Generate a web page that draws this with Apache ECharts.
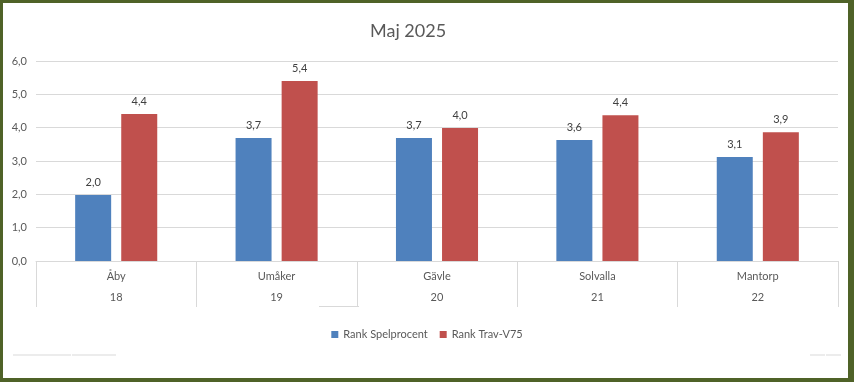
<!DOCTYPE html>
<html><head><meta charset="utf-8">
<script src="https://cdn.jsdelivr.net/npm/echarts@6/dist/echarts.min.js"></script>
<style>
html,body{margin:0;padding:0;background:#fff;}
#wrap{position:absolute;left:0;top:0;width:854px;height:382px;box-sizing:border-box;border-style:solid;border-color:#4F6228;border-width:3px 6px 4px 3px;}
#c{position:absolute;left:0;top:0;width:854px;height:382px;}
</style></head>
<body>
<div id="c"></div>
<div id="wrap"></div>
<script>
const tracks = ['Åby','Umåker','Gävle','Solvalla','Mantorp'];
const weeks = ['18','19','20','21','22'];
const yTicks = ['0,0','1,0','2,0','3,0','4,0','5,0','6,0'];
const rankSpelprocent = [1.98, 3.69, 3.69, 3.63, 3.12];
const rankTravV75 = [4.41, 5.40, 3.99, 4.37, 3.86];
const seriesNames = ['Rank Spelprocent','Rank Trav-V75'];

const font = 'Lato, "Noto Sans", sans-serif';
const chart = echarts.init(document.getElementById('c'), null, {renderer:'canvas'});
const lbl = {show:true, position:'top', distance:7, color:'#404040', fontSize:11, fontFamily:font,
  formatter: p => p.value.toFixed(1).replace('.', ',')};
chart.setOption({
  animation:false,
  backgroundColor:'#fff',
  title:{text:'Maj 2025', left:370, top:22, padding:0, textStyle:{fontFamily:font, fontSize:18, fontWeight:'normal', color:'#595959'}},
  legend:{data:seriesNames, left:'center', top:324, itemWidth:7, itemHeight:7, itemGap:12, icon:'rect',
    textStyle:{fontFamily:font, fontSize:11, color:'#595959'}},
  grid:{left:36, right:16, top:61, bottom:121, containLabel:false},
  xAxis:[
    {type:'category', data:tracks, position:'bottom',
     axisLine:{lineStyle:{color:'#d9d9d9'}},
     axisTick:{show:true, length:46, lineStyle:{color:'#d9d9d9'}},
     axisLabel:{margin:10, color:'#595959', fontSize:11, fontFamily:font}},
    {type:'category', data:weeks, position:'bottom', gridIndex:0,
     axisLine:{show:false}, axisTick:{show:false},
     axisLabel:{margin:31, color:'#595959', fontSize:11, fontFamily:font}}
  ],
  yAxis:{type:'value', min:0, max:6, interval:1,
    axisLine:{show:false}, axisTick:{show:false},
    splitLine:{lineStyle:{color:'#d9d9d9'}},
    axisLabel:{margin:9, color:'#595959', fontSize:11, fontFamily:font,
      formatter: v => yTicks[Math.round(v)]}},
  series:[
    {name:seriesNames[0], type:'bar', data:rankSpelprocent, barWidth:36, barGap:'28%', itemStyle:{color:'#4F81BD'}, label:lbl},
    {name:seriesNames[1], type:'bar', data:rankTravV75, barWidth:36, barGap:'28%', itemStyle:{color:'#C0504D'}, label:lbl}
  ],
  graphic:[
    {type:'line', shape:{x1:13,y1:355,x2:71,y2:355}, style:{stroke:'#d9d9d9',lineWidth:1}},
    {type:'line', shape:{x1:72,y1:355,x2:116,y2:355}, style:{stroke:'#d9d9d9',lineWidth:1}},
    {type:'line', shape:{x1:319,y1:306.5,x2:359,y2:306.5}, style:{stroke:'#d9d9d9',lineWidth:1}},
    {type:'line', shape:{x1:810,y1:355,x2:825,y2:355}, style:{stroke:'#d9d9d9',lineWidth:1}},
    {type:'line', shape:{x1:826,y1:355,x2:841,y2:355}, style:{stroke:'#d9d9d9',lineWidth:1}}
  ]
});
</script>
</body></html>
